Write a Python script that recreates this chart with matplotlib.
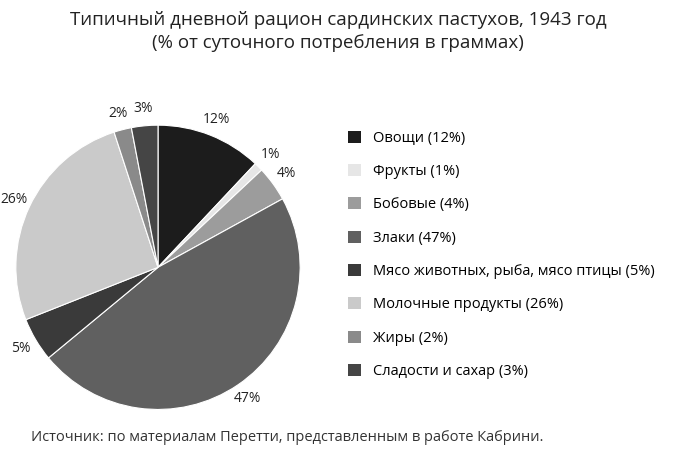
import matplotlib.pyplot as plt
from matplotlib.patches import Patch

plt.rcParams['font.family'] = 'Open Sans'

categories = ['Овощи', 'Фрукты', 'Бобовые', 'Злаки',
              'Мясо животных, рыба, мясо птицы', 'Молочные продукты',
              'Жиры', 'Сладости и сахар']
values = [12, 1, 4, 47, 5, 26, 2, 3]
colors = ['#1c1c1c', '#e6e6e6', '#9c9c9c', '#606060',
          '#3a3a3a', '#cacaca', '#8a8a8a', '#454545']

fig = plt.figure(figsize=(6.9, 4.55), dpi=100)
ax = fig.add_axes([0.023, 0.100, 0.412, 0.625])
wedges, texts = ax.pie(values, colors=colors, startangle=90, counterclock=False,
                       labels=[f'{v}%' for v in values], labeldistance=1.12,
                       wedgeprops=dict(edgecolor='white', linewidth=0.8),
                       textprops=dict(fontsize=10, color='#222222'))
for t in texts:
    t.set_horizontalalignment('center')
    t.set_clip_on(False)
ax.set_xlim(-1, 1)
ax.set_ylim(-1, 1)
ax.set_aspect('equal')

handles = [Patch(facecolor=c, edgecolor='none') for c in colors]
labels = [f'{c} ({v}%)' for c, v in zip(categories, values)]
fig.legend(handles, labels, loc='center left', bbox_to_anchor=(0.485, 0.44),
           frameon=False, fontsize=10.5, handlelength=0.9, handleheight=0.9,
           labelspacing=1.25, handletextpad=0.8)

fig.text(0.49, 0.975, 'Типичный дневной рацион сардинских пастухов, 1943 год\n'
         '(% от суточного потребления в граммах)',
         ha='center', va='top', fontsize=13.5, color='#222222', linespacing=1.3)
fig.text(0.045, 0.03, 'Источник: по материалам Перетти, представленным в работе Кабрини.',
         fontsize=10.5, color='#333333')

fig.savefig('out.png', dpi=100)
